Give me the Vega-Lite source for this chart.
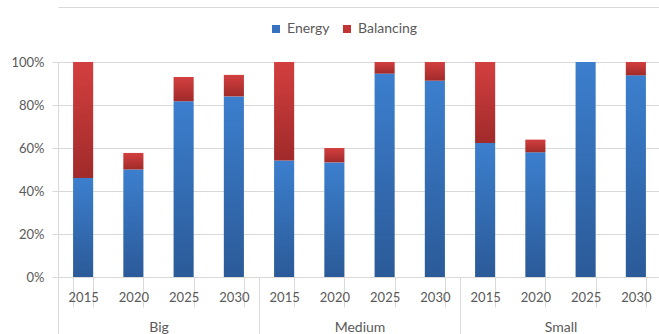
{
  "$schema": "https://vega.github.io/schema/vega-lite/v6.json",
  "width": 603,
  "height": 215,
  "autosize": "none",
  "padding": {"left": 58, "top": 62, "right": 0, "bottom": 57},
  "background": "white",
  "config": {
    "font": "Lato",
    "view": {"stroke": null},
    "axis": {
      "labelFont": "Lato",
      "labelFontSize": 13,
      "labelColor": "#595959",
      "domainColor": "#D9D9D9",
      "tickColor": "#D9D9D9",
      "gridColor": "#D9D9D9",
      "domainWidth": 1,
      "tickWidth": 1,
      "gridWidth": 1
    },
    "legend": {
      "labelFont": "Lato",
      "labelFontSize": 14,
      "labelColor": "#595959"
    }
  },
  "data": {
    "values": [
      {"size": "Big", "year": "2015", "series": "Energy", "value": 46},
      {"size": "Big", "year": "2015", "series": "Balancing", "value": 54},
      {"size": "Big", "year": "2020", "series": "Energy", "value": 50},
      {"size": "Big", "year": "2020", "series": "Balancing", "value": 7.7},
      {"size": "Big", "year": "2025", "series": "Energy", "value": 81.7},
      {"size": "Big", "year": "2025", "series": "Balancing", "value": 11.3},
      {"size": "Big", "year": "2030", "series": "Energy", "value": 84},
      {"size": "Big", "year": "2030", "series": "Balancing", "value": 10},
      {"size": "Medium", "year": "2015", "series": "Energy", "value": 54.2},
      {"size": "Medium", "year": "2015", "series": "Balancing", "value": 45.8},
      {"size": "Medium", "year": "2020", "series": "Energy", "value": 53.3},
      {"size": "Medium", "year": "2020", "series": "Balancing", "value": 6.7},
      {"size": "Medium", "year": "2025", "series": "Energy", "value": 94.6},
      {"size": "Medium", "year": "2025", "series": "Balancing", "value": 5.4},
      {"size": "Medium", "year": "2030", "series": "Energy", "value": 91.3},
      {"size": "Medium", "year": "2030", "series": "Balancing", "value": 8.7},
      {"size": "Small", "year": "2015", "series": "Energy", "value": 62.3},
      {"size": "Small", "year": "2015", "series": "Balancing", "value": 37.7},
      {"size": "Small", "year": "2020", "series": "Energy", "value": 58},
      {"size": "Small", "year": "2020", "series": "Balancing", "value": 5.9},
      {"size": "Small", "year": "2025", "series": "Energy", "value": 100},
      {"size": "Small", "year": "2025", "series": "Balancing", "value": 0},
      {"size": "Small", "year": "2030", "series": "Energy", "value": 93.8},
      {"size": "Small", "year": "2030", "series": "Balancing", "value": 6.2}
    ]
  },
  "transform": [
    {"calculate": "datum.size + '|' + datum.year", "as": "slot"},
    {
      "stack": "value",
      "groupby": ["slot"],
      "sort": [{"field": "series", "order": "descending"}],
      "as": ["v0", "v1"]
    }
  ],
  "layer": [
    {
      "transform": [{"filter": "datum.series === 'Energy'"}],
      "mark": {
        "type": "bar",
        "fill": {
          "gradient": "linear", "x1": 0, "y1": 0, "x2": 0, "y2": 1,
          "stops": [{"offset": 0, "color": "#3C7FCE"}, {"offset": 1, "color": "#2B5A98"}]
        }
      },
      "encoding": {
        "x": {
          "field": "slot",
          "type": "nominal",
          "sort": null,
          "scale": {"paddingInner": 0.6, "paddingOuter": 0.3},
          "axis": {
            "title": null,
            "orient": "bottom",
            "labelExpr": "split(datum.label, '|')[1]",
            "labelAngle": 0,
            "labelBaseline": "top",
            "tickBand": "extent",
            "tickSize": 30,
            "labelPadding": -16
          }
        },
        "y": {
          "field": "v0",
          "type": "quantitative",
          "scale": {"domain": [0, 100], "nice": false},
          "axis": {
            "title": null,
            "values": [0, 20, 40, 60, 80, 100],
            "labelExpr": "datum.value + '%'",
            "tickSize": 6,
            "labelPadding": 8,
            "grid": true
          }
        },
        "y2": {"field": "v1"}
      }
    },
    {
      "transform": [{"filter": "datum.series === 'Balancing'"}],
      "mark": {
        "type": "bar",
        "fill": {
          "gradient": "linear", "x1": 0, "y1": 0, "x2": 0, "y2": 1,
          "stops": [{"offset": 0, "color": "#D33F3F"}, {"offset": 1, "color": "#A12A2A"}]
        }
      },
      "encoding": {
        "x": {
          "field": "slot",
          "type": "nominal",
          "sort": null,
          "scale": {"paddingInner": 0.6, "paddingOuter": 0.3},
          "axis": null
        },
        "y": {"field": "v0", "type": "quantitative"},
        "y2": {"field": "v1"}
      }
    },
    {
      "mark": {"type": "square", "opacity": 0},
      "encoding": {
        "color": {
          "field": "series",
          "type": "nominal",
          "scale": {"domain": ["Energy", "Balancing"], "range": ["#3672BF", "#C23535"]},
          "legend": {
            "title": null,
            "orient": "none",
            "direction": "horizontal",
            "legendX": 211,
            "legendY": -40,
            "symbolType": "square",
            "symbolSize": 64,
            "symbolOpacity": 1,
            "symbolStrokeWidth": 0,
            "labelOffset": 4,
            "columnPadding": 10
          }
        }
      }
    },
    {
      "mark": {"type": "tick", "opacity": 0},
      "encoding": {
        "x": {
          "field": "size",
          "type": "nominal",
          "sort": ["Big", "Medium", "Small"],
          "scale": {"paddingInner": 0, "paddingOuter": 0},
          "axis": {
            "title": null,
            "orient": "bottom",
            "domain": false,
            "labelAngle": 0,
            "labelBaseline": "top",
            "labelFontSize": 14,
            "tickBand": "extent",
            "tickSize": 80,
            "labelPadding": -37
          }
        }
      }
    },
    {
      "mark": {"type": "tick", "opacity": 0},
      "encoding": {
        "x": {
          "field": "size",
          "type": "nominal",
          "axis": {
            "title": null,
            "orient": "top",
            "offset": 55,
            "labels": false,
            "ticks": false,
            "domain": true
          }
        }
      }
    }
  ],
  "resolve": {"scale": {"x": "independent"}, "axis": {"x": "independent"}}
}
